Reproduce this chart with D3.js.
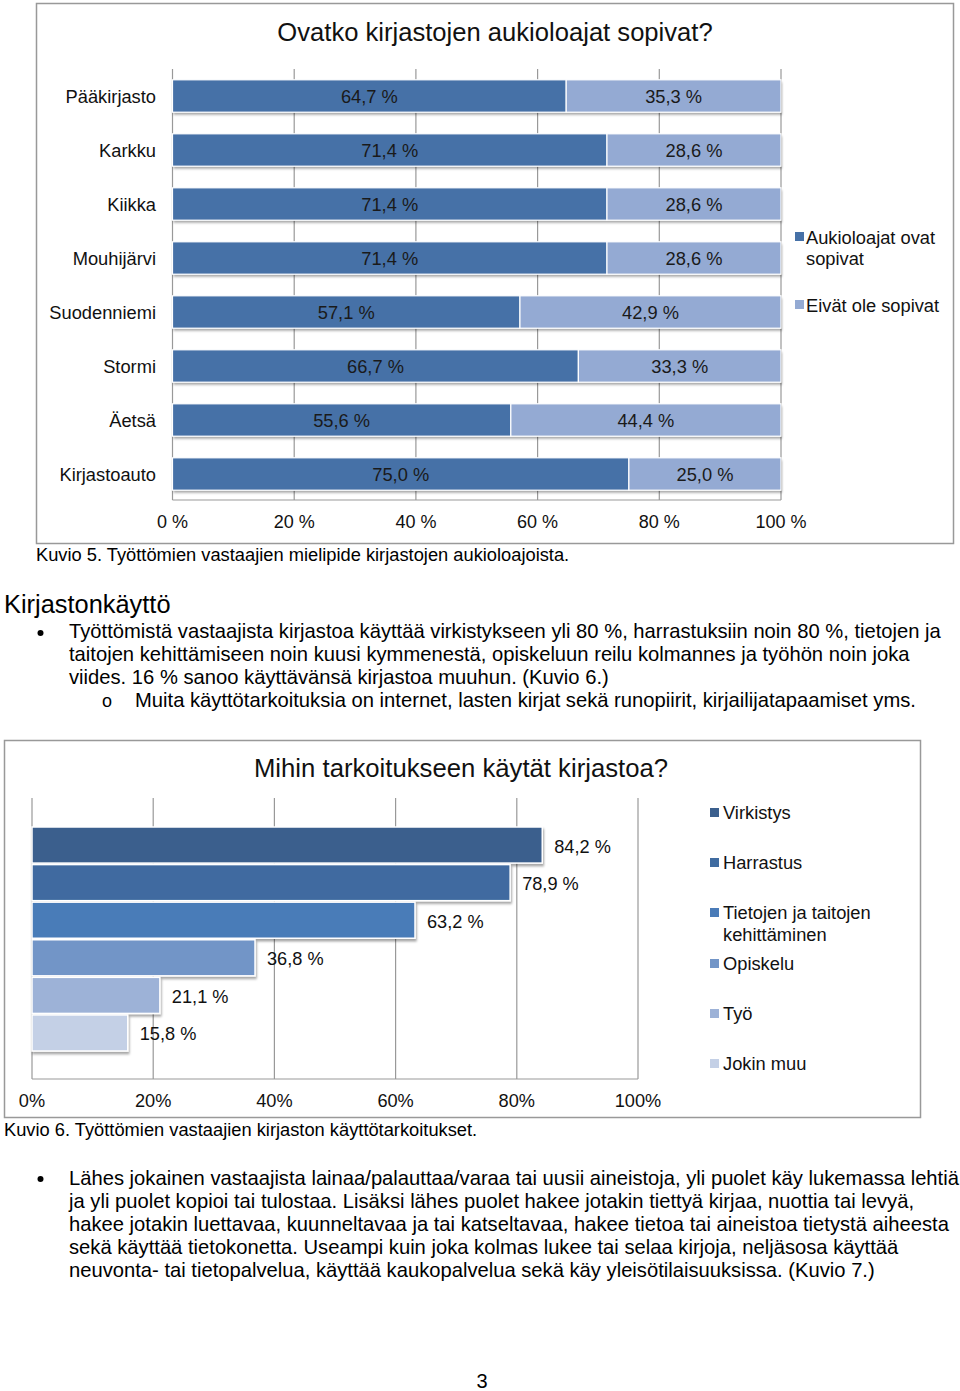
<!DOCTYPE html>
<html>
<head>
<meta charset="utf-8">
<script src="https://cdn.jsdelivr.net/npm/d3@7"></script>
<style>
  body{margin:0;background:#fff;}
  svg{display:block;font-family:"Liberation Sans",Arial,sans-serif;}
</style>
</head>
<body>
<svg id="page" width="960" height="1391"></svg>
<script>
// chart 1 data
var libraries = ["Pääkirjasto","Karkku","Kiikka","Mouhijärvi","Suodenniemi","Stormi","Äetsä","Kirjastoauto"];
var suitable = [64.7,71.4,71.4,71.4,57.1,66.7,55.6,75.0];
var notSuitable = [35.3,28.6,28.6,28.6,42.9,33.3,44.4,25.0];
var series1 = ["Aukioloajat ovat sopivat","Eivät ole sopivat"];
var ticks1 = [0,20,40,60,80,100];

// chart 2 data
var purposes = ["Virkistys","Harrastus","Tietojen ja taitojen kehittäminen","Opiskelu","Työ","Jokin muu"];
var purposeValues = [84.2,78.9,63.2,36.8,21.1,15.8];
var ticks2 = [0,20,40,60,80,100];

var svg = d3.select("#page");
var fmt = function(v){ return d3.format(".1f")(v).replace(".",",")+" %"; };

var defs = svg.append("defs");
var sh = defs.append("filter").attr("id","shadow").attr("x","-5%").attr("y","-20%").attr("width","110%").attr("height","160%");
sh.append("feDropShadow").attr("dx",1).attr("dy",2.5).attr("stdDeviation",1.2).attr("flood-color","#000").attr("flood-opacity",0.35);

// ---------- chart 1 ----------
var c1 = svg.append("g");
c1.append("rect").attr("x",36.5).attr("y",3.5).attr("width",917).attr("height",540)
  .attr("fill","#fff").attr("stroke","#999").attr("stroke-width",1.5);
c1.append("text").attr("x",495).attr("y",41).attr("text-anchor","middle")
  .attr("font-size",25.6).attr("fill","#111").text("Ovatko kirjastojen aukioloajat sopivat?");

var x1 = d3.scaleLinear().domain([0,100]).range([172.5,781]);
var y1 = d3.scaleBand().domain(libraries).range([69,501]).paddingInner(0.4).paddingOuter(0.2);

c1.append("g").selectAll("line").data(ticks1).join("line")
  .attr("x1",d=>x1(d)).attr("x2",d=>x1(d)).attr("y1",69).attr("y2",500)
  .attr("stroke","#999").attr("stroke-width",1.2);
c1.append("line").attr("x1",x1(0)).attr("x2",x1(100)).attr("y1",500).attr("y2",500)
  .attr("stroke","#999").attr("stroke-width",1.2);

var colors1 = ["#4671a7","#94aad3"];
var rows = libraries.map(function(l,i){ return {name:l, a:suitable[i], b:notSuitable[i]}; });
var rowG = c1.append("g").selectAll("g").data(rows).join("g");
rowG.append("rect").attr("x",x1(0)).attr("y",d=>y1(d.name)).attr("width",x1(100)-x1(0))
  .attr("height",y1.bandwidth()).attr("fill","#fff").attr("filter","url(#shadow)");
rowG.append("rect").attr("x",x1(0)).attr("y",d=>y1(d.name)).attr("width",d=>x1(d.a)-x1(0))
  .attr("height",y1.bandwidth()).attr("fill",colors1[0]).attr("stroke","#fff").attr("stroke-width",1.2);
rowG.append("rect").attr("x",d=>x1(d.a)).attr("y",d=>y1(d.name)).attr("width",d=>x1(d.a+d.b)-x1(d.a))
  .attr("height",y1.bandwidth()).attr("fill",colors1[1]).attr("stroke","#fff").attr("stroke-width",1.2);
rowG.append("text").attr("x",d=>x1(d.a/2)).attr("y",d=>y1(d.name)+y1.bandwidth()/2+6.5)
  .attr("text-anchor","middle").attr("font-size",18.3).attr("fill","#1a1a1a").text(d=>fmt(d.a));
rowG.append("text").attr("x",d=>x1(d.a+d.b/2)).attr("y",d=>y1(d.name)+y1.bandwidth()/2+6.5)
  .attr("text-anchor","middle").attr("font-size",18.3).attr("fill","#1a1a1a").text(d=>fmt(d.b));
rowG.append("text").attr("x",156).attr("y",d=>y1(d.name)+y1.bandwidth()/2+6.5)
  .attr("text-anchor","end").attr("font-size",18.3).attr("fill","#111").text(d=>d.name);

c1.append("g").selectAll("text").data(ticks1).join("text")
  .attr("x",d=>x1(d)).attr("y",528).attr("text-anchor","middle").attr("font-size",18).attr("fill","#111")
  .text(d=>d+" %");

var leg1 = [{c:colors1[0], lines:["Aukioloajat ovat","sopivat"], y:237},{c:colors1[1], lines:["Eivät ole sopivat"], y:305}];
var l1 = c1.append("g").selectAll("g").data(leg1).join("g");
l1.append("rect").attr("x",795).attr("y",d=>d.y-5).attr("width",9).attr("height",9).attr("fill",d=>d.c);
l1.each(function(d){
  d3.select(this).selectAll("text").data(d.lines).join("text")
    .attr("x",806).attr("y",(t,i)=>d.y+6.5+i*21).attr("font-size",18.3).attr("fill","#111").text(t=>t);
});

// ---------- text ----------
var txt = svg.append("g").attr("fill","#000");
txt.append("text").attr("x",36).attr("y",561).attr("font-size",18.3).text("Kuvio 5. Työttömien vastaajien mielipide kirjastojen aukioloajoista.");
txt.append("text").attr("x",4).attr("y",612.5).attr("font-size",25.4).text("Kirjastonkäyttö");
var para1 = ["Työttömistä vastaajista kirjastoa käyttää virkistykseen yli 80 %, harrastuksiin noin 80 %, tietojen ja",
  "taitojen kehittämiseen noin kuusi kymmenestä, opiskeluun reilu kolmannes ja työhön noin joka",
  "viides. 16 % sanoo käyttävänsä kirjastoa muuhun. (Kuvio 6.)"];
txt.append("circle").attr("cx",40.5).attr("cy",633).attr("r",3);
txt.append("g").selectAll("text").data(para1).join("text")
  .attr("x",69).attr("y",(d,i)=>637.7+i*23.1).attr("font-size",20.2).text(d=>d);
txt.append("text").attr("x",102).attr("y",707).attr("font-size",18).text("o");
txt.append("text").attr("x",135).attr("y",707).attr("font-size",20.2)
  .text("Muita käyttötarkoituksia on internet, lasten kirjat sekä runopiirit, kirjailijatapaamiset yms.");

// ---------- chart 2 ----------
var c2 = svg.append("g");
c2.append("rect").attr("x",4.5).attr("y",740.5).attr("width",916).attr("height",377)
  .attr("fill","#fff").attr("stroke","#999").attr("stroke-width",1.5);
c2.append("text").attr("x",461).attr("y",777).attr("text-anchor","middle")
  .attr("font-size",25.7).attr("fill","#111").text("Mihin tarkoitukseen käytät kirjastoa?");

var x2 = d3.scaleLinear().domain([0,100]).range([32,638]);
var y2 = d3.scaleBand().domain(purposes).range([827,1051]).paddingInner(0.04);
var colors2 = ["#3b5f8d","#3f6ba0","#4a7bb8","#7295c7","#9db2d7","#c4d0e6"];

c2.append("g").selectAll("line").data(ticks2).join("line")
  .attr("x1",d=>x2(d)).attr("x2",d=>x2(d)).attr("y1",798).attr("y2",1079)
  .attr("stroke","#999").attr("stroke-width",1.2);
c2.append("line").attr("x1",x2(0)).attr("x2",x2(100)).attr("y1",1079).attr("y2",1079)
  .attr("stroke","#999").attr("stroke-width",1.2);

var bars2 = purposes.map(function(p,i){ return {name:p, v:purposeValues[i], c:colors2[i]}; });
var b2 = c2.append("g").selectAll("g").data(bars2).join("g");
b2.append("rect").attr("x",x2(0)).attr("y",d=>y2(d.name)).attr("width",d=>x2(d.v)-x2(0))
  .attr("height",y2.bandwidth()).attr("fill",d=>d.c).attr("stroke","#fff").attr("stroke-width",1.5)
  .attr("filter","url(#shadow)");
b2.append("text").attr("x",d=>x2(d.v)+12).attr("y",d=>y2(d.name)+y2.bandwidth()/2+7.5)
  .attr("font-size",18.2).attr("fill","#111").text(d=>fmt(d.v));

c2.append("g").selectAll("text").data(ticks2).join("text")
  .attr("x",d=>x2(d)).attr("y",1107).attr("text-anchor","middle").attr("font-size",18.2).attr("fill","#111")
  .text(d=>d+"%");

var leg2y = [812,862,912,963,1013,1063];
var leg2lines = [["Virkistys"],["Harrastus"],["Tietojen ja taitojen","kehittäminen"],["Opiskelu"],["Työ"],["Jokin muu"]];
var l2 = c2.append("g").selectAll("g").data(bars2).join("g");
l2.append("rect").attr("x",710).attr("y",(d,i)=>leg2y[i]-4).attr("width",9).attr("height",9).attr("fill",d=>d.c);
l2.each(function(d,i){
  d3.select(this).selectAll("text").data(leg2lines[i]).join("text")
    .attr("x",723).attr("y",(t,j)=>leg2y[i]+6.5+j*22).attr("font-size",18.3).attr("fill","#111").text(t=>t);
});

// ---------- text below ----------
txt.append("text").attr("x",4).attr("y",1136).attr("font-size",18.3).text("Kuvio 6. Työttömien vastaajien kirjaston käyttötarkoitukset.");
var para2 = ["Lähes jokainen vastaajista lainaa/palauttaa/varaa tai uusii aineistoja, yli puolet käy lukemassa lehtiä",
  "ja yli puolet kopioi tai tulostaa. Lisäksi lähes puolet hakee jotakin tiettyä kirjaa, nuottia tai levyä,",
  "hakee jotakin luettavaa, kuunneltavaa ja tai katseltavaa, hakee tietoa tai aineistoa tietystä aiheesta",
  "sekä käyttää tietokonetta. Useampi kuin joka kolmas lukee tai selaa kirjoja, neljäsosa käyttää",
  "neuvonta- tai tietopalvelua, käyttää kaukopalvelua sekä käy yleisötilaisuuksissa. (Kuvio 7.)"];
txt.append("circle").attr("cx",40.5).attr("cy",1179).attr("r",3);
txt.append("g").selectAll("text").data(para2).join("text")
  .attr("x",69).attr("y",(d,i)=>1184.5+i*23.2).attr("font-size",20.2).text(d=>d);
txt.append("text").attr("x",482).attr("y",1388).attr("text-anchor","middle").attr("font-size",20).text("3");
</script>
</body>
</html>
